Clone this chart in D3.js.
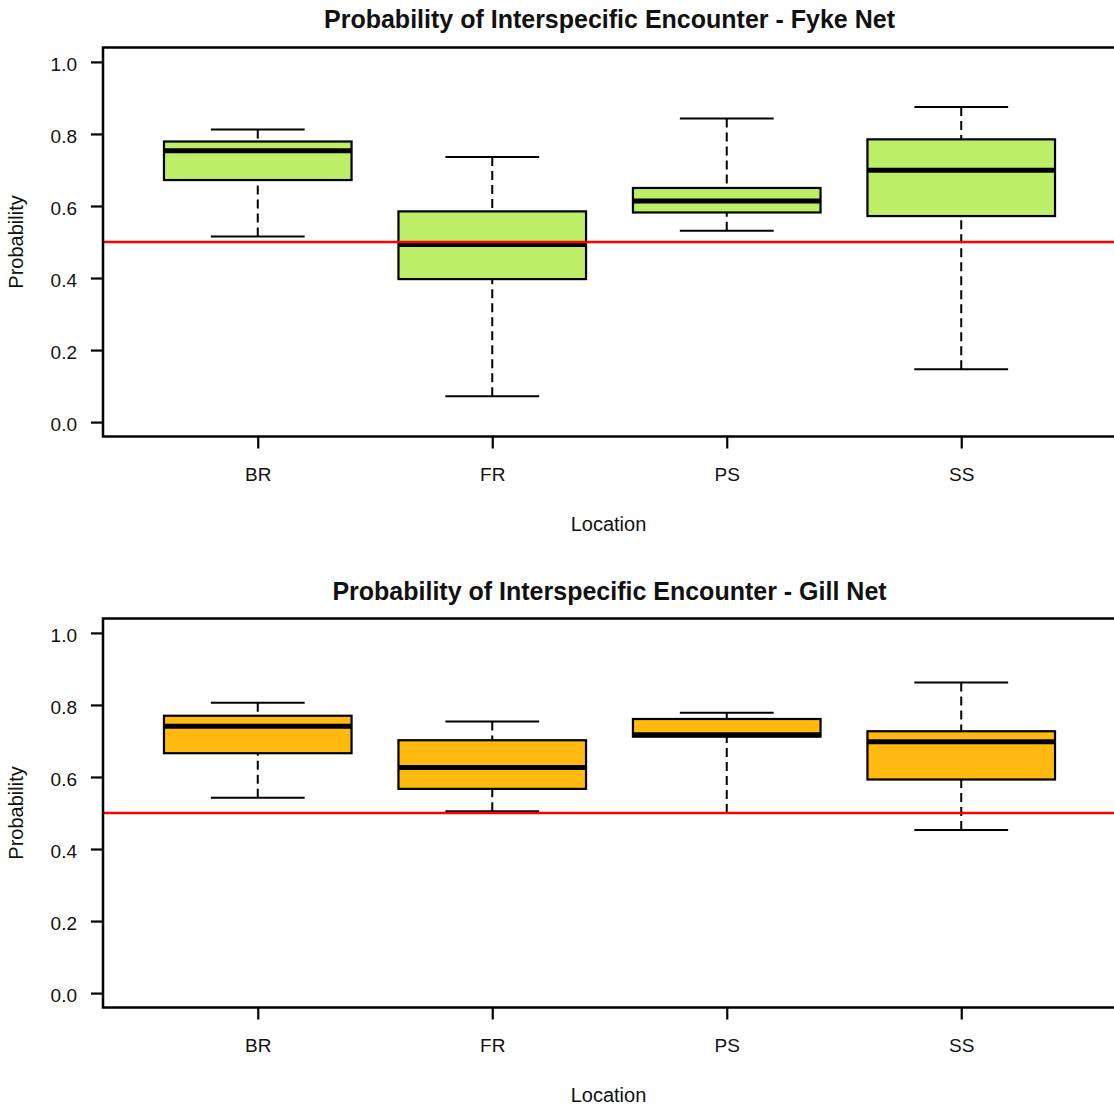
<!DOCTYPE html>
<html>
<head>
<meta charset="utf-8">
<script src="https://cdn.jsdelivr.net/npm/d3@7"></script>
<style>
  html, body { margin: 0; padding: 0; background: #ffffff; }
  svg { display: block; }
  text { font-family: "Liberation Sans", Arial, sans-serif; fill: #111; }
</style>
</head>
<body>
<svg id="chart" width="1114" height="1105"></svg>
<script>
// ---------------- data ----------------
const categories = ["BR", "FR", "PS", "SS"];

const fykeMin = [0.515, 0.072, 0.531, 0.147];
const fykeQ1  = [0.672, 0.397, 0.582, 0.572];
const fykeMed = [0.753, 0.493, 0.614, 0.699];
const fykeQ3  = [0.779, 0.585, 0.650, 0.785];
const fykeMax = [0.812, 0.736, 0.843, 0.875];

const gillMin = [0.542, 0.505, 0.500, 0.453];
const gillQ1  = [0.666, 0.567, 0.712, 0.593];
const gillMed = [0.741, 0.626, 0.717, 0.698];
const gillQ3  = [0.770, 0.702, 0.761, 0.727];
const gillMax = [0.806, 0.754, 0.778, 0.862];

const yTickValues = [0.0, 0.2, 0.4, 0.6, 0.8, 1.0];
const yTickLabels = ["0.0", "0.2", "0.4", "0.6", "0.8", "1.0"];
const referenceLine = 0.5;

const titles = [
  "Probability of Interspecific Encounter - Fyke Net",
  "Probability of Interspecific Encounter - Gill Net"
];
const xTitle = "Location";
const yTitle = "Probability";

// ---------------- drawing ----------------
const svg = d3.select("#chart");
const frameLeft = 103, frameRight = 1116;

const panels = [
  { title: titles[0], fill: "#BCEE68", top: 47.5, bottom: 436.5,
    min: fykeMin, q1: fykeQ1, med: fykeMed, q3: fykeQ3, max: fykeMax,
    titleY: 28, xLabY: 531 },
  { title: titles[1], fill: "#FFB90F", top: 618.5, bottom: 1007.5,
    min: gillMin, q1: gillQ1, med: gillMed, q3: gillQ3, max: gillMax,
    titleY: 600, xLabY: 1102 }
];

const x = d3.scalePoint()
  .domain(categories)
  .range([frameLeft, frameRight])
  .padding(0.66);
const step = x.step();
const boxW = step * 0.8;
const capW = boxW * 0.5;

panels.forEach(p => {
  const y = d3.scaleLinear().domain([-0.04, 1.04]).range([p.bottom, p.top]);
  const g = svg.append("g");
  const rows = categories.map((c, i) => ({
    cat: c, min: p.min[i], q1: p.q1[i], med: p.med[i], q3: p.q3[i], max: p.max[i]
  }));

  // whiskers (dashed), drawn from extremes toward box
  g.selectAll(".whisk-lo").data(rows).join("line")
    .attr("x1", d => x(d.cat)).attr("x2", d => x(d.cat))
    .attr("y1", d => y(d.min)).attr("y2", d => y(d.q1))
    .attr("stroke", "#000").attr("stroke-width", 2)
    .attr("stroke-dasharray", "9,5");
  g.selectAll(".whisk-hi").data(rows).join("line")
    .attr("x1", d => x(d.cat)).attr("x2", d => x(d.cat))
    .attr("y1", d => y(d.max)).attr("y2", d => y(d.q3))
    .attr("stroke", "#000").attr("stroke-width", 2)
    .attr("stroke-dasharray", "9,5");

  // caps
  ["min", "max"].forEach(k => {
    g.selectAll(".cap-" + k).data(rows).join("line")
      .attr("x1", d => x(d.cat) - capW / 2).attr("x2", d => x(d.cat) + capW / 2)
      .attr("y1", d => y(d[k])).attr("y2", d => y(d[k]))
      .attr("stroke", "#000").attr("stroke-width", 2);
  });

  // boxes
  g.selectAll(".box").data(rows).join("rect")
    .attr("x", d => x(d.cat) - boxW / 2)
    .attr("width", boxW)
    .attr("y", d => y(d.q3))
    .attr("height", d => y(d.q1) - y(d.q3))
    .attr("fill", p.fill)
    .attr("stroke", "#000").attr("stroke-width", 2.2);

  // medians
  g.selectAll(".med").data(rows).join("line")
    .attr("x1", d => x(d.cat) - boxW / 2).attr("x2", d => x(d.cat) + boxW / 2)
    .attr("y1", d => y(d.med)).attr("y2", d => y(d.med))
    .attr("stroke", "#000").attr("stroke-width", 5);

  // reference line
  g.append("line")
    .attr("x1", frameLeft).attr("x2", frameRight)
    .attr("y1", y(referenceLine)).attr("y2", y(referenceLine))
    .attr("stroke", "#FF0000").attr("stroke-width", 2.4);

  // frame
  g.append("rect")
    .attr("x", frameLeft).attr("y", p.top)
    .attr("width", frameRight - frameLeft).attr("height", p.bottom - p.top)
    .attr("fill", "none").attr("stroke", "#000").attr("stroke-width", 2.5);

  // y axis
  const yAxis = d3.axisLeft(y)
    .tickValues(yTickValues)
    .tickFormat((d, i) => yTickLabels[i])
    .tickSize(12).tickPadding(14);
  const ya = g.append("g").attr("transform", `translate(${frameLeft},0)`).call(yAxis);
  ya.select(".domain").remove();
  ya.selectAll(".tick line").attr("stroke", "#000").attr("stroke-width", 2.2);
  ya.selectAll(".tick text")
    .attr("x", -26).attr("dy", 0).attr("y", 8.5)
    .style("font-size", "19px").style("font-family", "'Liberation Sans', Arial, sans-serif")
    .attr("fill", "#111");

  // x axis
  const xAxis = d3.axisBottom(x).tickSize(12).tickPadding(10);
  const xa = g.append("g").attr("transform", `translate(0,${p.bottom})`).call(xAxis);
  xa.select(".domain").remove();
  xa.selectAll(".tick line").attr("stroke", "#000").attr("stroke-width", 2.2);
  xa.selectAll(".tick text")
    .attr("y", 44).attr("dy", 0)
    .style("font-size", "19px").style("font-family", "'Liberation Sans', Arial, sans-serif")
    .attr("fill", "#111");

  // title
  g.append("text")
    .attr("x", (frameLeft + frameRight) / 2).attr("y", p.titleY)
    .attr("text-anchor", "middle")
    .style("font-size", "25px").style("font-weight", "bold")
    .text(p.title);

  // x label
  g.append("text")
    .attr("x", (frameLeft + frameRight) / 2 - 1).attr("y", p.xLabY)
    .attr("text-anchor", "middle")
    .style("font-size", "20px")
    .text(xTitle);

  // y label
  const cy = (p.top + p.bottom) / 2;
  g.append("text")
    .attr("transform", `translate(23,${cy}) rotate(-90)`)
    .attr("text-anchor", "middle")
    .style("font-size", "20px")
    .text(yTitle);
});
</script>
</body>
</html>
